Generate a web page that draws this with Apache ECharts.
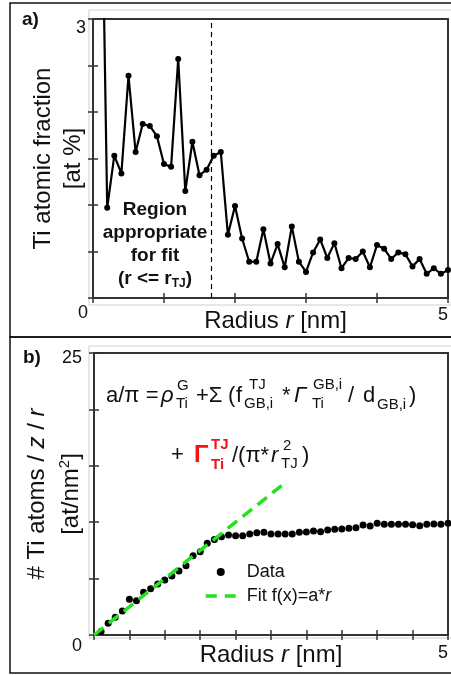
<!DOCTYPE html>
<html>
<head>
<meta charset="utf-8">
<script src="https://cdn.jsdelivr.net/npm/echarts@6/dist/echarts.min.js"></script>
<style>
html, body { margin: 0; padding: 0; background: #fff; }
#chart { width: 451px; height: 675px; }
</style>
</head>
<body>
<div id="chart"></div>
<script>
// a) Ti atomic fraction [at %] vs radius [nm]
var radiusA = [0.1, 0.2, 0.3, 0.4, 0.5, 0.6, 0.7, 0.8, 0.9, 1.0,
               1.1, 1.2, 1.3, 1.4, 1.5, 1.6, 1.7, 1.8, 1.9, 2.0,
               2.1, 2.2, 2.3, 2.4, 2.5, 2.6, 2.7, 2.8, 2.9, 3.0,
               3.1, 3.2, 3.3, 3.4, 3.5, 3.6, 3.7, 3.8, 3.9, 4.0,
               4.1, 4.2, 4.3, 4.4, 4.5, 4.6, 4.7, 4.8, 4.9, 5.0];
var fractionA = [5.7, 0.97, 1.53, 1.34, 2.39, 1.57, 1.87, 1.85, 1.74, 1.44,
                 1.41, 2.57, 1.15, 1.68, 1.32, 1.38, 1.53, 1.57, 0.68, 0.99,
                 0.64, 0.39, 0.39, 0.74, 0.37, 0.58, 0.33, 0.77, 0.39, 0.28,
                 0.49, 0.63, 0.43, 0.59, 0.32, 0.43, 0.42, 0.50, 0.33, 0.57,
                 0.53, 0.42, 0.49, 0.47, 0.34, 0.42, 0.26, 0.32, 0.26, 0.30];
var regionEdge = 1.67; // r_TJ, dashed line

// b) # Ti atoms / z / r [at/nm2] vs radius [nm]
var radiusB = [0.1, 0.2, 0.3, 0.4, 0.5, 0.6, 0.7, 0.8, 0.9, 1.0,
               1.1, 1.2, 1.3, 1.4, 1.5, 1.6, 1.7, 1.8, 1.9, 2.0,
               2.1, 2.2, 2.3, 2.4, 2.5, 2.6, 2.7, 2.8, 2.9, 3.0,
               3.1, 3.2, 3.3, 3.4, 3.5, 3.6, 3.7, 3.8, 3.9, 4.0,
               4.1, 4.2, 4.3, 4.4, 4.5, 4.6, 4.7, 4.8, 4.9, 5.0];
var atomsB = [0.30, 1.04, 1.57, 2.13, 3.16, 3.04, 3.78, 4.10, 4.52, 4.88,
              5.23, 5.67, 6.15, 7.03, 7.39, 8.13, 8.47, 8.72, 8.87, 8.80,
              8.80, 8.95, 9.07, 9.10, 8.95, 8.95, 8.95, 8.95, 9.10, 9.13,
              9.22, 9.16, 9.31, 9.37, 9.40, 9.46, 9.51, 9.75, 9.66, 9.90,
              9.81, 9.81, 9.81, 9.81, 9.78, 9.69, 9.81, 9.84, 9.81, 9.90];
var fitR = [0, 2.65];
var fitAtoms = [0, 13.25];

var FONT = "'Liberation Sans', Arial, sans-serif";
var INK = '#111';
var GREEN = '#22e41e';
var RED = '#f01414';

function pairs(xs, ys) {
  return xs.map(function (x, i) { return [x, ys[i]]; });
}

var chart = echarts.init(document.getElementById('chart'));

function tickAxis(extra) {
  var base = {
    type: 'value',
    nameMoveOverlap: false,
    axisLine: { show: false },
    axisTick: { show: true, inside: true, length: 5, lineStyle: { color: '#333', width: 1.5 } },
    splitLine: { show: false },
    axisLabel: { show: false }
  };
  return Object.assign(base, extra);
}

// little helper for the equation pieces
function t(x, y, s, size, opts) {
  opts = opts || {};
  return {
    type: 'text', x: x, y: y, z: 10,
    style: {
      text: s,
      fontFamily: FONT,
      fontSize: size,
      fontStyle: opts.italic ? 'italic' : 'normal',
      fontWeight: opts.bold ? 'bold' : 'normal',
      fill: opts.color || INK,
      align: 'left',
      verticalAlign: 'middle'
    }
  };
}

var option = {
  animation: false,
  backgroundColor: '#fff',
  textStyle: { fontFamily: FONT },
  grid: [
    { left: 93, top: 19, width: 355, height: 279, outerBoundsMode: 'none', containLabel: false,
      show: true, borderColor: '#333', borderWidth: 2, backgroundColor: 'transparent' },
    { left: 94, top: 353, width: 354, height: 282, outerBoundsMode: 'none', containLabel: false,
      show: true, borderColor: '#333', borderWidth: 2, backgroundColor: 'transparent' }
  ],
  xAxis: [
    tickAxis({
      gridIndex: 0, min: 0, max: 5, interval: 1, position: 'bottom',
      axisLabel: {
        show: true, margin: 8, fontSize: 18, color: INK, fontFamily: FONT,
        showMaxLabel: true, alignMaxLabel: 'right',
        formatter: function (v) { return v === 5 ? '5' : ''; }
      },
      name: 'Radius {i|r} [nm]', nameLocation: 'middle', nameGap: 11,
      nameTextStyle: { fontSize: 24, color: INK, fontFamily: FONT, padding: [0, 0, 0, 10],
        rich: { i: { fontSize: 24, fontStyle: 'italic', color: INK, fontFamily: FONT } } }
    }),
    tickAxis({ gridIndex: 0, min: 0, max: 5, interval: 1, position: 'top' }),
    tickAxis({
      gridIndex: 1, min: 0, max: 5, interval: 0.5, position: 'bottom',
      axisLabel: {
        show: true, margin: 9, fontSize: 18, color: INK, fontFamily: FONT,
        showMaxLabel: true, alignMaxLabel: 'right',
        formatter: function (v) { return v === 5 ? '5' : ''; }
      },
      name: 'Radius {i|r} [nm]', nameLocation: 'middle', nameGap: 8,
      nameTextStyle: { fontSize: 24, color: INK, fontFamily: FONT,
        rich: { i: { fontSize: 24, fontStyle: 'italic', color: INK, fontFamily: FONT } } }
    }),
    tickAxis({ gridIndex: 1, min: 0, max: 5, interval: 0.5, position: 'top' })
  ],
  yAxis: [
    tickAxis({
      gridIndex: 0, min: 0, max: 3, interval: 0.5, position: 'left',
      axisLabel: {
        show: true, margin: 5, fontSize: 18, color: INK, fontFamily: FONT,
        showMinLabel: true, showMaxLabel: true,
        formatter: function (v) { return v === 3 ? '{t|3}' : (v === 0 ? '{z|0}' : ''); },
        rich: {
          t: { fontSize: 18, color: INK, fontFamily: FONT, padding: [18, 2, 0, 0] },
          z: { fontSize: 18, color: INK, fontFamily: FONT, padding: [30, 0, 0, 0] }
        }
      },
      name: 'Ti atomic fraction\n[at %]', nameLocation: 'middle', nameGap: 5, nameRotate: 90,
      nameTextStyle: { fontSize: 24, lineHeight: 30, color: INK, fontFamily: FONT }
    }),
    tickAxis({ gridIndex: 0, min: 0, max: 3, interval: 0.5, position: 'right' }),
    tickAxis({
      gridIndex: 1, min: 0, max: 25, interval: 5, position: 'left',
      axisLabel: {
        show: true, margin: 12, fontSize: 18, color: INK, fontFamily: FONT,
        showMinLabel: true, showMaxLabel: true,
        formatter: function (v) { return v === 25 ? '{t|25}' : (v === 0 ? '{z|0}' : ''); },
        rich: {
          t: { fontSize: 18, color: INK, fontFamily: FONT, padding: [11, 0, 0, 0] },
          z: { fontSize: 18, color: INK, fontFamily: FONT, padding: [22, 0, 0, 0] }
        }
      },
      name: '# Ti atoms / {i|z} / {i|r}\n[at/nm{sup|2}]', nameLocation: 'middle', nameGap: 6, nameRotate: 90,
      nameTextStyle: { fontSize: 24, lineHeight: 34, color: INK, fontFamily: FONT,
        rich: {
          i: { fontSize: 24, fontStyle: 'italic', color: INK, fontFamily: FONT },
          sup: { fontSize: 15, lineHeight: 15, color: INK, fontFamily: FONT, padding: [0, 0, 12, 0] }
        } }
    }),
    tickAxis({ gridIndex: 1, min: 0, max: 25, interval: 5, position: 'right' })
  ],
  legend: {
    orient: 'vertical', left: 199, top: 558,
    itemWidth: 30, itemHeight: 8, itemGap: 6,
    data: [
      { name: 'Data' },
      { name: 'Fit', itemStyle: { opacity: 0 }, lineStyle: { color: GREEN, width: 3.5, type: [11, 8] } }
    ],
    formatter: function (name) { return name === 'Fit' ? 'Fit f(x)=a*{i|r}' : 'Data'; },
    textStyle: { fontSize: 18, color: INK, fontFamily: FONT, padding: [0, 0, 0, 6],
      rich: { i: { fontSize: 18, fontStyle: 'italic', color: INK, fontFamily: FONT } } }
  },
  series: [
    {
      type: 'line', xAxisIndex: 0, yAxisIndex: 0,
      data: pairs(radiusA, fractionA),
      symbol: 'circle', symbolSize: 6, showAllSymbol: true,
      lineStyle: { color: '#000', width: 2.2 },
      itemStyle: { color: '#000' },
      markLine: {
        silent: true, symbol: 'none', label: { show: false },
        lineStyle: { color: '#000', width: 1.2, type: [5, 4] },
        data: [{ xAxis: regionEdge }]
      }
    },
    {
      name: 'Data', type: 'scatter', xAxisIndex: 2, yAxisIndex: 2,
      data: pairs(radiusB, atomsB),
      symbol: 'circle', symbolSize: 7,
      itemStyle: { color: '#000', opacity: 1 }
    },
    {
      name: 'Fit', type: 'line', xAxisIndex: 2, yAxisIndex: 2,
      data: pairs(fitR, fitAtoms), z: 5,
      symbol: 'none',
      lineStyle: { color: GREEN, width: 3.5, type: [12, 7] },
      itemStyle: { color: GREEN }
    }
  ],
  graphic: [
    // panel frames
    { type: 'rect', shape: { x: 10, y: 3, width: 445, height: 334 }, style: { fill: 'none', stroke: '#111', lineWidth: 1.5 } },
    { type: 'rect', shape: { x: 10, y: 337, width: 445, height: 336 }, style: { fill: 'none', stroke: '#111', lineWidth: 1.5 } },
    { type: 'rect', shape: { x: 89, y: 10, width: 370, height: 295 }, style: { fill: 'none', stroke: '#cfcfcf', lineWidth: 1 } },
    { type: 'rect', shape: { x: 89, y: 346, width: 370, height: 292 }, style: { fill: 'none', stroke: '#cfcfcf', lineWidth: 1 } },
    // panel letters
    { type: 'text', x: 22, y: 20, style: { text: 'a)', fontFamily: FONT, fontSize: 19, fontWeight: 'bold', fill: INK, verticalAlign: 'middle' } },
    { type: 'text', x: 23, y: 358, style: { text: 'b)', fontFamily: FONT, fontSize: 19, fontWeight: 'bold', fill: INK, verticalAlign: 'middle' } },
    // region note
    {
      type: 'text', x: 155, y: 198, z: 10,
      style: {
        text: 'Region\nappropriate\nfor fit\n(r <= r{s|TJ})',
        fontFamily: FONT, fontSize: 19, fontWeight: 'bold', lineHeight: 23,
        fill: INK, align: 'center', verticalAlign: 'top',
        rich: { s: { fontFamily: FONT, fontSize: 12, fontWeight: 'bold', fill: INK, lineHeight: 14, verticalAlign: 'bottom' } }
      }
    },
    // equation line 1
    t(106, 396, 'a/π =', 22),
    t(161, 396, 'ρ', 22, { italic: true }),
    t(177, 386, 'G', 15),
    t(176, 404, 'Ti', 15),
    t(196, 396, '+Σ', 22),
    t(228, 396, '(', 22),
    t(236, 396, 'f', 22),
    t(249, 385, 'TJ', 15),
    t(244, 404, 'GB,i', 15),
    t(282, 396, '*', 22),
    t(294, 396, 'Γ', 22, { italic: true }),
    t(313, 385, 'GB,i', 15),
    t(312, 404, 'Ti', 15),
    t(348, 396, '/', 22),
    t(363, 396, 'd', 22),
    t(377, 405, 'GB,i', 15),
    t(409, 396, ')', 22),
    // equation line 2
    t(171, 455, '+', 22),
    t(194, 455, 'Γ', 24, { bold: true, color: RED }),
    t(211, 445, 'TJ', 15, { bold: true, color: RED }),
    t(211, 465, 'Ti', 15, { bold: true, color: RED }),
    t(232, 456, '/(π*', 22),
    t(271, 456, 'r', 22, { italic: true }),
    t(283, 446, '2', 15),
    t(281, 464, 'TJ', 15),
    t(302, 456, ')', 22)
  ]
};

chart.setOption(option);
</script>
</body>
</html>
